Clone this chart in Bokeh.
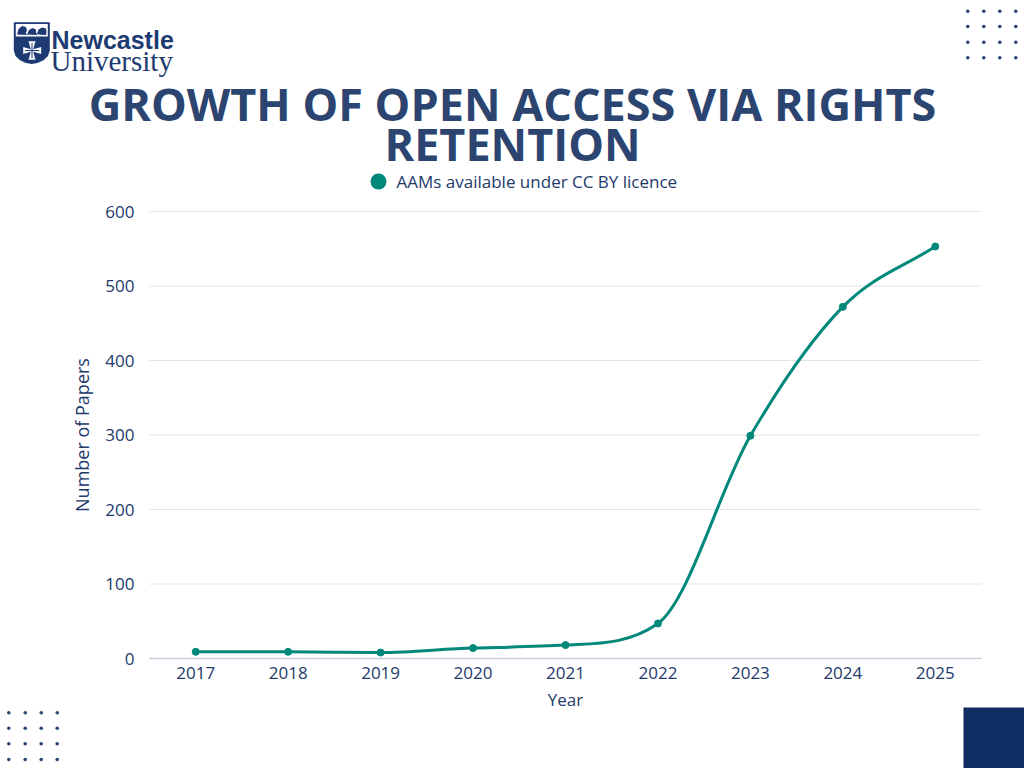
import numpy as np
from bokeh.plotting import figure
from bokeh.models import Label, LinearAxis, Range1d, FixedTicker
from bokeh.embed import file_html
from bokeh.resources import INLINE

# ---- data ----
years = [2017, 2018, 2019, 2020, 2021, 2022, 2023, 2024, 2025]
papers = [9, 9, 8, 14, 18, 47, 299, 472, 553]
y_ticks = [0, 100, 200, 300, 400, 500, 600]
series_name = "AAMs available under CC BY licence"
title_lines = ["GROWTH OF OPEN ACCESS VIA RIGHTS", "RETENTION"]

TEAL = "#00887a"
NAVY = "#2b4470"
TXT = "#22396a"
DARK = "#0f2d63"
LOGO = "#1d3a72"

# ---- layout: page pixels of the chart area ----
W, H = 1024, 768
FL, FR, FT, FB = 149, 981, 211, 658
XA, XB = 2016.5, 2025.5
YA, YB = 0, 600
ppx = (FR - FL) / (XB - XA)
ppy = (FB - FT) / (YB - YA)

def X(px):
    return XA + (px - FL) / ppx

def Y(py):
    return YA + (FB - py) / ppy

p = figure(width=W, height=H,
           x_range=Range1d(X(0), X(W)), y_range=Range1d(Y(H), Y(0)),
           output_backend="svg", toolbar_location=None,
           x_axis_location=None, y_axis_location=None,
           min_border=0, min_border_left=0, min_border_right=0,
           min_border_top=0, min_border_bottom=0)
p.outline_line_color = None
p.background_fill_color = "white"
p.border_fill_color = "white"
p.grid.visible = False

# ---- axes placed at the chart area ----
xaxis = LinearAxis(fixed_location=YA, bounds=(XA, XB), ticker=FixedTicker(ticks=years),
                   axis_label="Year")
yaxis = LinearAxis(fixed_location=XA, bounds=(YA, YB), ticker=FixedTicker(ticks=y_ticks),
                   axis_label="Number of Papers")
for ax in (xaxis, yaxis):
    ax.major_tick_line_color = None
    ax.minor_tick_line_color = None
    ax.major_label_text_font = "Open Sans"
    ax.major_label_text_font_size = "17px"
    ax.major_label_text_color = TXT
    ax.axis_label_text_font = "Open Sans"
    ax.axis_label_text_font_style = "normal"
    ax.axis_label_text_color = TXT
xaxis.axis_label_text_font_size = "17px"
yaxis.axis_label_text_font_size = "18px"
xaxis.axis_line_color = "#c9cdd9"
xaxis.axis_line_width = 1.5
yaxis.axis_line_color = None
xaxis.major_label_standoff = 2
yaxis.major_label_standoff = 9
xaxis.axis_label_standoff = 6
yaxis.axis_label_standoff = 8
p.add_layout(xaxis, "below")
p.add_layout(yaxis, "left")

# horizontal grid lines at the y ticks
p.segment(x0=XA, x1=XB, y0=y_ticks, y1=y_ticks, line_color="#e1e4eb", line_width=1,
          level="underlay")

# ---- smooth monotone curve through the data (Bezier segments) ----
x = np.array(years, dtype=float)
y = np.array(papers, dtype=float)
h = np.diff(x)
d = np.diff(y) / h
n = len(x)
m = np.zeros(n)
m[0], m[-1] = d[0], d[-1]
for i in range(1, n - 1):
    m[i] = 0.0 if d[i - 1] * d[i] <= 0 else (d[i - 1] + d[i]) / 2
for i in range(n - 1):
    if d[i] == 0:
        m[i] = m[i + 1] = 0.0
        continue
    a, b = m[i] / d[i], m[i + 1] / d[i]
    s = a * a + b * b
    if s > 9:
        t = 3 / np.sqrt(s)
        m[i], m[i + 1] = t * a * d[i], t * b * d[i]
p.bezier(x0=x[:-1], y0=y[:-1], x1=x[1:], y1=y[1:],
         cx0=x[:-1] + h / 3, cy0=y[:-1] + m[:-1] * h / 3,
         cx1=x[1:] - h / 3, cy1=y[1:] - m[1:] * h / 3,
         line_color=TEAL, line_width=3)
p.scatter(x=years, y=papers, size=7, fill_color=TEAL, line_color=TEAL)

# ---- decorations (page-pixel placement) ----
def label(px, py, text, size, color, font="Open Sans", style="normal",
          align="left", baseline="middle"):
    p.add_layout(Label(x=X(px), y=Y(py), text=text, text_font=font,
                       text_font_size=size, text_font_style=style, text_color=color,
                       text_align=align, text_baseline=baseline))

def rect(x0, y0, x1, y1, color):
    p.quad(left=X(x0), right=X(x1), top=Y(y0), bottom=Y(y1),
           fill_color=color, line_color=None)

def patch(pts, color):
    p.patch(x=[X(a) for a, _ in pts], y=[Y(b) for _, b in pts],
            fill_color=color, line_color=None)

# title
label(512, 103, title_lines[0], "45px", NAVY, style="bold", align="center")
label(512, 143, title_lines[1], "45px", NAVY, style="bold", align="center")

# legend
p.scatter(x=[X(378)], y=[Y(181)], size=16, fill_color=TEAL, line_color=None)
label(396, 181, series_name, "17px", TXT)

# decorative dot grids
dot_x = [X(v) for v in [967.3, 983.3, 999.3, 1015.3] for _ in range(4)]
dot_y = [Y(v) for _ in range(4) for v in [10.7, 26.0, 41.7, 57.3]]
p.scatter(x=dot_x, y=dot_y, size=3.6, fill_color=NAVY, line_color=None)
dot_x = [X(v) for v in [8.3, 24.7, 40.7, 56.7] for _ in range(4)]
dot_y = [Y(v) for _ in range(4) for v in [712.3, 727.7, 743.3, 759.0]]
p.scatter(x=dot_x, y=dot_y, size=3.6, fill_color=NAVY, line_color=None)

# corner square
rect(963, 707, 1030, 775, DARK)

# logo: shield
patch([(13.3, 21.7), (49.3, 21.7), (49.3, 50), (47.5, 55.5), (43, 59.8), (37, 62.5),
       (31.3, 63.5), (25.5, 62.5), (19.5, 59.8), (15, 55.5), (13.3, 50)], LOGO)
rect(15.3, 23.5, 47.3, 36, "white")
patch([(16.5, 34), (18, 28.5), (21.5, 25.5), (25.5, 26.5), (26.5, 30), (25, 32.5),
       (27, 34.5), (21, 34.2)], LOGO)
patch([(26.5, 34), (28.5, 29.5), (32, 27.5), (35.5, 29), (35.5, 32), (37, 34.5),
       (31, 34.3)], LOGO)
patch([(36.5, 33.5), (38, 29), (41.5, 27), (45.5, 28), (46, 31.5), (45.5, 34.5),
       (40, 34.3)], LOGO)
# cross pattee
patch([(28, 40.7), (35, 40.7), (32.7, 48.8), (40.7, 46.5), (40.7, 53.5), (32.7, 51.2),
       (35, 59.3), (28, 59.3), (30.3, 51.2), (22.7, 53.5), (22.7, 46.5), (30.3, 48.8)],
      "white")
rect(31.0, 42.6, 32.0, 57.4, LOGO)
rect(24.6, 49.5, 38.8, 50.5, LOGO)
label(51, 39.5, "Newcastle", "25px", LOGO, font="Liberation Sans", style="bold",
      baseline="alphabetic")
label(50, 60, "University", "29px", LOGO, font="Liberation Serif", baseline="alphabetic")

open("out.html", "w").write(file_html(p, INLINE))
